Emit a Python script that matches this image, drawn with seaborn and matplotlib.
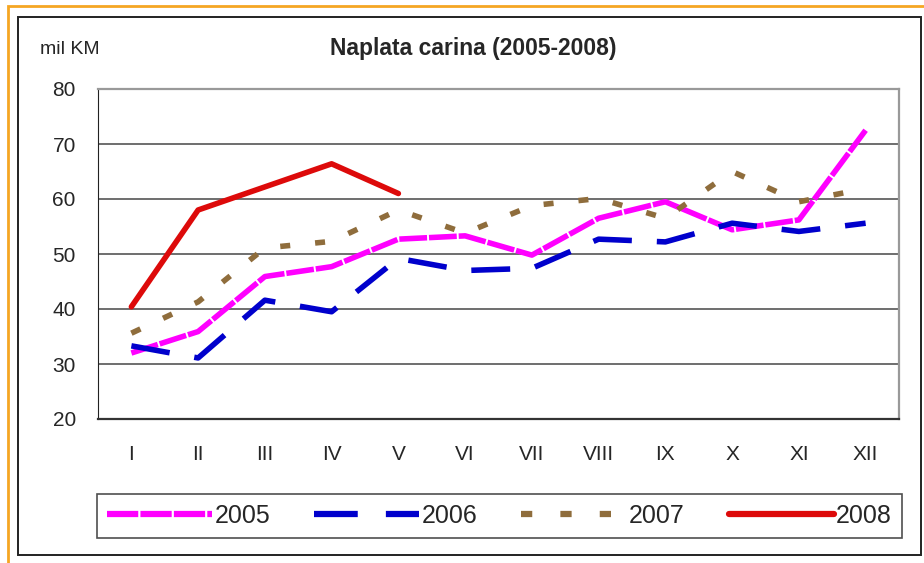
import pandas as pd
import matplotlib.pyplot as plt
import seaborn as sns
from matplotlib.lines import Line2D
from matplotlib.patches import Rectangle

months = ['I', 'II', 'III', 'IV', 'V', 'VI', 'VII', 'VIII', 'IX', 'X', 'XI', 'XII']
y2005 = [32.0, 35.9, 45.9, 47.7, 52.7, 53.3, 49.8, 56.5, 59.5, 54.4, 56.2, 72.5]
y2006 = [33.3, 31.1, 41.6, 39.5, 49.2, 47.0, 47.4, 52.7, 52.2, 55.6, 54.1, 55.6]
y2007 = [35.6, 41.3, 51.1, 52.3, 58.0, 53.8, 58.8, 60.1, 56.5, 65.0, 59.5, 61.9]
y2008 = [40.4, 58.0, 62.2, 66.4, 61.0]

years = ['2005', '2006', '2007', '2008']
colors = {'2005': '#FF00FF', '2006': '#0000CC', '2007': '#8F6D3C', '2008': '#DD0A0A'}
dashes = {'2005': (5, 0.35), '2006': (7, 4.5), '2007': (1.8, 4.5), '2008': ''}

frames = []
for yr, vals in zip(years, [y2005, y2006, y2007, y2008]):
    frames.append(pd.DataFrame({'month': months[:len(vals)], 'pos': range(len(vals)),
                                'value': vals, 'year': yr}))
df = pd.concat(frames, ignore_index=True)

sns.set_style('white')
plt.rcParams['font.family'] = ['Liberation Sans', 'DejaVu Sans']

fig = plt.figure(figsize=(9.24, 5.63), dpi=100)
ax = fig.add_axes([98 / 924, 1 - 419 / 563, 801 / 924, 330 / 563])

sns.lineplot(data=df, x='pos', y='value', hue='year', style='year',
             palette=colors, dashes=dashes, linewidth=4, ax=ax, legend=False)
for ln in ax.get_lines():
    ln.set_solid_capstyle('butt')
    ln.set_dash_capstyle('butt')
ax.get_lines()[-1].set_solid_capstyle('round')

ax.set_xlim(-0.5, 11.5)
ax.set_ylim(20, 80)
ax.set_yticks(range(20, 81, 10))
ax.set_xticks(range(12))
ax.set_xticklabels(months)
ax.set_xticks([i - 0.5 for i in range(13)], minor=True)
ax.tick_params(axis='x', which='major', length=0, pad=19, labelsize=15)
ax.tick_params(axis='x', which='minor', length=6, width=1, color='#222222', direction='out')
ax.tick_params(axis='y', length=6, width=1, color='#222222', direction='out', pad=10, labelsize=15)
ax.set_xlabel('')
ax.set_ylabel('')
for y in range(30, 80, 10):
    ax.axhline(y, color='#555555', lw=1.2, zorder=0)
ax.spines['left'].set_color('#222222')
ax.spines['bottom'].set_color('#333333')
ax.spines['bottom'].set_linewidth(1.6)
ax.spines['top'].set_color('#999999')
ax.spines['top'].set_linewidth(1.6)
ax.spines['right'].set_color('#999999')
ax.spines['right'].set_linewidth(1.6)

fig.text(473 / 924, 1 - 49 / 563, 'Naplata carina (2005-2008)', ha='center', va='center',
         fontsize=16.5, fontweight='bold')
fig.text(40 / 924, 1 - 49 / 563, 'mil KM', ha='left', va='center', fontsize=14)

handles = [Line2D([], [], color=colors[y], lw=4.5, dashes=dashes[y] if dashes[y] else (None, None),
                  solid_capstyle='round') for y in years]
leg = fig.legend(handles, years, loc='center', ncol=4, frameon=True, fancybox=False,
                 bbox_to_anchor=(97 / 924, 1 - 539 / 563, 805 / 924, 46 / 563),
                 mode='expand', handlelength=4.2, handletextpad=0.1, fontsize=18,
                 borderaxespad=0, borderpad=0.4)
leg.get_frame().set_edgecolor('#222222')
leg.get_frame().set_linewidth(1.2)

fig.patches.append(Rectangle((18 / 924, 1 - 555 / 563), 903 / 924, 538 / 563,
                             transform=fig.transFigure, fill=False, ec='#222222', lw=1.4))
fig.patches.append(Rectangle((8 / 924, 1 - 570 / 563), 930 / 924, 564 / 563,
                             transform=fig.transFigure, fill=False, ec='#F5A623', lw=2))

fig.savefig('out.png', dpi=100)
